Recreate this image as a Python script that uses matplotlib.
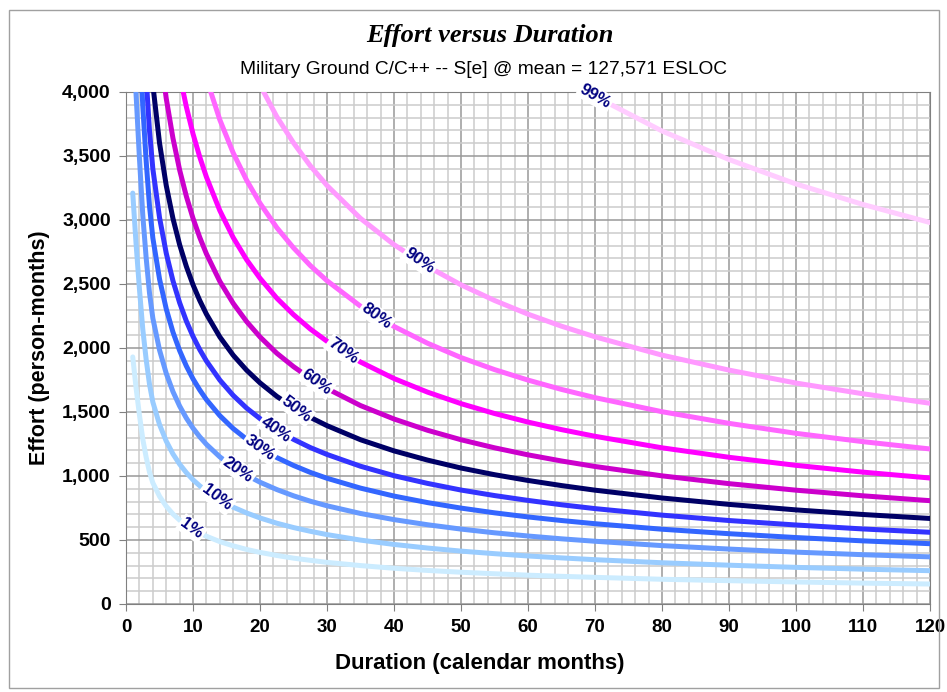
import numpy as np
import matplotlib
matplotlib.use('Agg')
import matplotlib.pyplot as plt
from matplotlib.patches import Rectangle
from matplotlib.ticker import MultipleLocator, FuncFormatter

plt.rcParams['font.family'] = ['Liberation Sans', 'DejaVu Sans']

durations = [1, 1.5, 2, 2.5, 3, 3.5, 4, 5, 6, 7, 8, 9, 10, 11, 12, 14, 16, 18, 20, 22.5, 25, 27.5,
             30, 35, 40, 45, 50, 55, 60, 65, 70, 80, 90, 100, 110, 120]

effort_01 = [1930, 1686, 1476, 1287, 1147, 1030, 946, 841, 763, 703, 655, 616, 582, 554, 529, 487, 454, 426,
             403, 379, 358, 341, 325, 300, 279, 262, 248, 236, 225, 216, 208, 193, 182, 172, 163, 156]
effort_10 = [3210, 2811, 2460, 2145, 1911, 1716, 1577, 1401, 1272, 1172, 1092, 1026, 970, 923, 881, 812, 756, 711,
             672, 631, 597, 568, 542, 499, 465, 437, 413, 393, 375, 360, 346, 322, 303, 286, 272, 260]
effort_20 = [4560, 3978, 3481, 3036, 2705, 2429, 2232, 1983, 1801, 1659, 1546, 1452, 1373, 1306, 1247, 1149, 1071, 1006,
             951, 894, 845, 803, 767, 707, 659, 619, 585, 556, 531, 509, 490, 456, 429, 405, 385, 368]
effort_30 = [5836, 5092, 4456, 3886, 3462, 3109, 2859, 2538, 2305, 2124, 1979, 1859, 1758, 1672, 1596, 1471, 1370, 1287,
             1218, 1144, 1082, 1028, 982, 905, 843, 792, 749, 712, 680, 652, 627, 584, 549, 519, 493, 471]
effort_40 = [6938, 6054, 5298, 4620, 4116, 3696, 3399, 3018, 2740, 2525, 2353, 2210, 2090, 1987, 1898, 1749, 1629, 1530,
             1448, 1360, 1286, 1222, 1168, 1076, 1002, 942, 890, 847, 809, 775, 745, 694, 652, 617, 586, 560]
effort_50 = [8277, 7221, 6319, 5511, 4910, 4409, 4055, 3600, 3269, 3012, 2806, 2637, 2493, 2371, 2264, 2086, 1943, 1826,
             1727, 1622, 1534, 1458, 1393, 1283, 1196, 1124, 1062, 1010, 965, 925, 889, 828, 778, 735, 699, 668]
effort_60 = [9999, 8724, 7634, 6658, 5931, 5326, 4899, 4349, 3949, 3639, 3390, 3185, 3012, 2864, 2735, 2520, 2348, 2206,
             2086, 1959, 1854, 1762, 1683, 1550, 1445, 1357, 1283, 1220, 1165, 1117, 1074, 1001, 940, 889, 845, 807]
effort_70 = [12192, 10637, 9309, 8118, 7232, 6494, 5973, 5303, 4815, 4437, 4134, 3884, 3672, 3492, 3335, 3073, 2862, 2689,
             2544, 2389, 2260, 2148, 2052, 1890, 1761, 1655, 1565, 1488, 1421, 1362, 1310, 1220, 1146, 1083, 1030, 984]
effort_80 = [15004, 13091, 11456, 9991, 8901, 7993, 7351, 6526, 5925, 5460, 5087, 4780, 4519, 4298, 4104, 3782, 3523, 3310,
             3130, 2940, 2782, 2644, 2525, 2326, 2168, 2037, 1925, 1831, 1749, 1676, 1612, 1502, 1411, 1333, 1268, 1211]
effort_90 = [19428, 16950, 14833, 12936, 11525, 10349, 9518, 8450, 7672, 7070, 6587, 6189, 5852, 5565, 5314, 4897, 4561, 4285,
             4053, 3807, 3602, 3423, 3269, 3012, 2807, 2637, 2493, 2371, 2264, 2170, 2087, 1944, 1827, 1726, 1642, 1568]
effort_99 = [36922, 32214, 28191, 24585, 21903, 19668, 18089, 16059, 14581, 13437, 12519, 11762, 11121, 10576, 10099, 9307,
             8669, 8144, 7703, 7235, 6845, 6505, 6213, 5725, 5334, 5012, 4738, 4506, 4303, 4124, 3966, 3695, 3472, 3281,
             3121, 2980]

percent_labels = ['1%', '10%', '20%', '30%', '40%', '50%', '60%', '70%', '80%', '90%', '99%']
series = [effort_01, effort_10, effort_20, effort_30, effort_40, effort_50,
          effort_60, effort_70, effort_80, effort_90, effort_99]
colors = ['#CCECFF', '#99CCFF', '#6699FF', '#3366FF', '#3333FF', '#000066',
          '#CC00CC', '#FF00FF', '#FF66FF', '#FF99FF', '#FFCCFF']
# where each percentile label sits along its curve (months)
label_at = [9.8, 13.5, 16.7, 20.0, 22.4, 25.4, 28.4, 32.4, 37.4, 43.8, 70.0]
label_rot = [-36, -37, -35, -35, -35, -37, -36, -36, -36, -35, -30]

fig = plt.figure(figsize=(9.47, 6.92), dpi=100)
ax = fig.add_axes([0.1331, 0.1272, 0.849, 0.7399])

for vals, col in zip(series, colors):
    ax.plot(durations, vals, color=col, lw=3.6, solid_capstyle='round',
            solid_joinstyle='round', zorder=3)

for lab, d, vals, rot in zip(percent_labels, label_at, series, label_rot):
    y = np.interp(d, durations, vals)
    ax.text(d, y, lab, color='#000080', fontsize=12, fontweight='bold', rotation=rot,
            ha='center', va='center', rotation_mode='anchor', zorder=5,
            bbox=dict(boxstyle='square,pad=0.1', fc='white', ec='none'))

ax.set_xlim(0, 120)
ax.set_ylim(0, 4000)
ax.xaxis.set_major_locator(MultipleLocator(10))
ax.xaxis.set_minor_locator(MultipleLocator(2))
ax.yaxis.set_major_locator(MultipleLocator(500))
ax.yaxis.set_minor_locator(MultipleLocator(100))
ax.yaxis.set_major_formatter(FuncFormatter(lambda v, p: '{:,.0f}'.format(v)))
ax.grid(which='minor', color='#CCCCCC', lw=1.1, zorder=0)
ax.grid(which='major', color='#999999', lw=1.1, zorder=1)
ax.set_axisbelow(True)
ax.tick_params(which='major', length=5, color='#808080', pad=6)
ax.tick_params(axis='x', labelsize=13.5)
ax.tick_params(axis='y', labelsize=14)
ax.tick_params(which='minor', length=0)
for lbl in ax.get_xticklabels() + ax.get_yticklabels():
    lbl.set_fontweight('bold')
for sp in ax.spines.values():
    sp.set_color('#808080')

fig.text(0.042, 0.497, 'Effort (person-months)', ha='center', va='center', rotation=90,
         fontsize=15.5, fontweight='bold')
fig.text(0.507, 0.0405, 'Duration (calendar months)', ha='center', va='center',
         fontsize=16, fontweight='bold')

fig.text(0.517, 0.949, 'Effort versus Duration', ha='center', va='center',
         fontsize=19, fontweight='bold', fontstyle='italic', family='Liberation Serif')
fig.text(0.511, 0.899, 'Military Ground C/C++ -- S[e] @ mean = 127,571 ESLOC',
         ha='center', va='center', fontsize=13.8)

fig.patches.append(Rectangle((9 / 947, 4 / 692), 930 / 947, 678 / 692, transform=fig.transFigure,
                             fill=False, ec='#A0A0A0', lw=1.0))

fig.savefig('out.png', dpi=100)
